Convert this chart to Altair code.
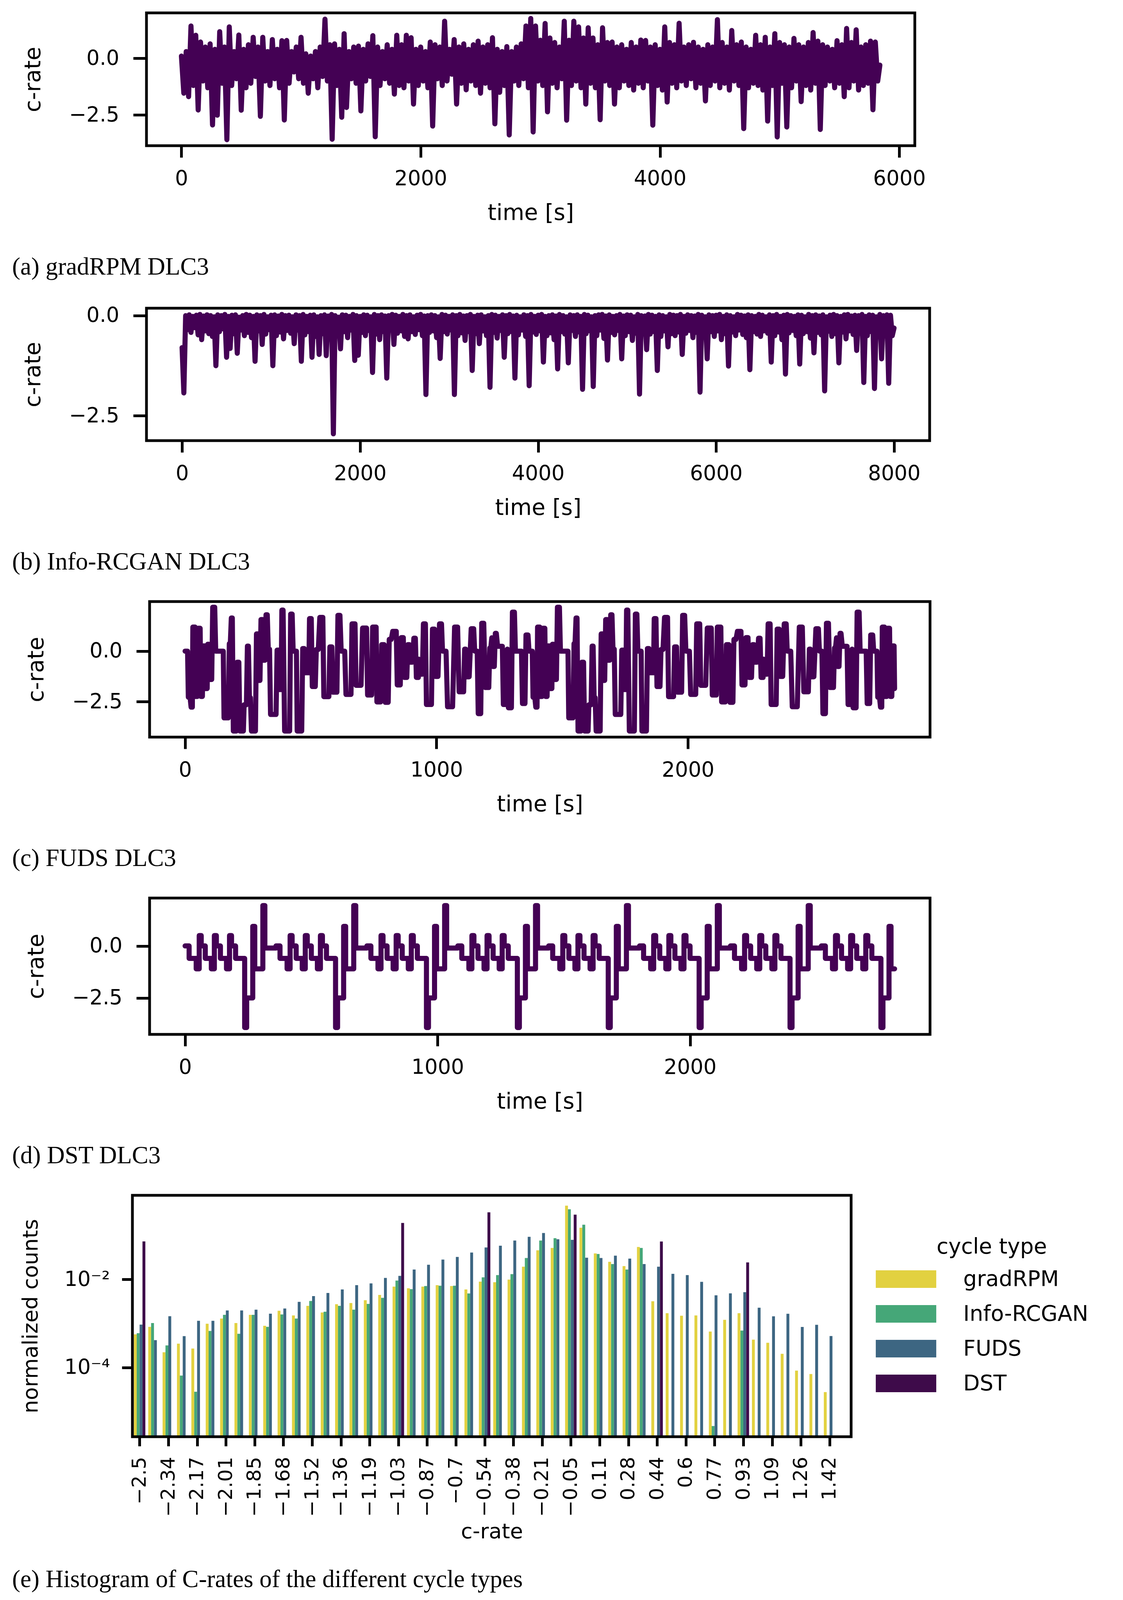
import altair as alt
import pandas as pd

LINE_COLOR = "#440154"
SANS = "DejaVu Sans"
SERIF = "Liberation Serif"

# (a) gradRPM: upper / lower envelope, one pair every 40 s (lower one 20 s later)
GRAD_STEP = 40
GRAD_TOP = [
    0.1, 0.3, 1.43, 1.02, 0.72, 0.5, 0.64, 0.4, 1.18, 0.5,
    1.39, 0.3, 1.03, 0.4, 0.6, 0.93, 0.5, 0.93, 0.3, 0.83,
    0.4, 0.78, 0.79, 0.3, 0.5, 0.93, 0.2, 0.1, 0.3, 0.5,
    1.73, 0.6, 0.64, 0.4, 1.09, 0.3, 0.5, 0.54, 0.4, 0.64,
    1.0, 0.5, 0.3, 0.6, 0.4, 1.02, 0.6, 1.02, 0.91, 0.4,
    0.5, 0.3, 0.72, 0.6, 0.5, 1.64, 0.4, 0.83, 0.5, 0.64,
    0.4, 0.6, 0.76, 0.5, 0.6, 0.91, 0.4, 0.3, 0.52, 0.3,
    0.5, 0.64, 1.43, 1.76, 1.43, 0.8, 1.54, 0.9, 0.7, 0.5,
    1.64, 0.8, 1.64, 1.39, 0.9, 1.35, 0.9, 0.6, 1.35, 0.7,
    0.72, 0.5, 0.6, 0.4, 0.7, 0.5, 0.81, 0.79, 0.5, 0.6,
    0.4, 1.39, 0.7, 0.6, 1.55, 0.5, 0.6, 0.71, 0.5, 0.4,
    0.6, 0.5, 1.71, 0.7, 0.5, 1.23, 0.6, 0.72, 0.5, 0.4,
    1.02, 0.6, 0.93, 0.5, 1.09, 0.7, 0.6, 0.5, 0.88, 0.6,
    0.5, 0.7, 1.14, 0.76, 0.6, 0.5, 0.4, 0.78, 0.6, 1.32,
    0.7, 1.26, 0.5, 0.6, 0.76, 0.72,
]
GRAD_BOTTOM = [
    -1.54, -1.69, -1.2, -2.28, -1.0, -1.3, -2.94, -2.51, -1.1, -3.59,
    -1.2, -0.9, -2.29, -1.3, -1.1, -0.8, -2.56, -1.0, -1.2, -0.9,
    -1.3, -2.72, -1.1, -0.6, -0.9, -1.1, -1.54, -0.9, -1.3, -0.8,
    -1.0, -3.57, -1.2, -2.6, -2.17, -0.9, -1.1, -2.32, -1.0, -0.8,
    -3.46, -1.2, -0.9, -1.1, -1.58, -1.2, -1.3, -1.0, -2.02, -1.2,
    -1.0, -1.3, -2.99, -0.9, -1.2, -1.0, -0.7, -2.02, -1.1, -1.39,
    -1.0, -1.2, -1.54, -1.1, -1.3, -2.89, -1.5, -1.2, -3.38, -1.0,
    -1.2, -0.9, -1.3, -3.25, -1.0, -1.2, -2.36, -1.1, -1.3, -0.9,
    -2.73, -1.2, -1.0, -1.3, -2.02, -1.1, -1.3, -2.71, -1.0, -1.2,
    -2.02, -1.3, -1.0, -1.2, -1.4, -1.1, -1.3, -1.0, -2.95, -1.2,
    -1.4, -1.93, -1.1, -1.3, -1.0, -1.2, -0.9, -1.3, -1.1, -1.88,
    -1.2, -1.0, -1.3, -1.1, -1.4, -1.0, -1.2, -3.1, -1.3, -1.1,
    -1.2, -1.4, -2.77, -1.2, -3.47, -1.1, -3.03, -1.3, -1.0, -1.91,
    -1.2, -1.4, -1.1, -3.14, -1.2, -1.0, -1.3, -1.1, -1.69, -1.3,
    -1.0, -1.4, -1.2, -1.1, -2.27, -1.0,
]
GRAD_LAST = (5838, -0.3)

# (b) Info-RCGAN: same layout
INFO_STEP = 40
INFO_TOP = [
    -0.8, 0.0, 0.02, -0.02, 0.01, 0.03, -0.01, 0.02, 0.0, -0.03,
    0.02, 0.0, 0.03, -0.02, 0.01, 0.02, -0.04, 0.0, 0.03, 0.01,
    -0.02, 0.02, 0.0, 0.03, -0.03, 0.01, 0.02, -0.01, 0.03, 0.0,
    0.01, -0.03, 0.02, 0.0, 0.03, -0.02, 0.01, 0.02, -0.03, 0.0,
    0.02, -0.01, 0.03, 0.0, -0.04, 0.02, 0.01, -0.02, 0.03, 0.0,
    -0.02, 0.02, 0.01, -0.03, 0.03, 0.0, 0.02, -0.01, 0.0, 0.03,
    0.01, -0.02, 0.03, 0.0, 0.02, -0.03, 0.01, 0.03, -0.01, 0.0,
    0.02, 0.0, -0.03, 0.03, 0.01, -0.02, 0.02, 0.0, 0.03, -0.01,
    0.0, 0.03, -0.02, 0.01, 0.02, -0.03, 0.0, 0.03, 0.01, -0.02,
    0.02, 0.0, 0.03, -0.01, 0.01, -0.03, 0.02, 0.0, 0.03, -0.02,
    0.01, 0.03, -0.02, 0.0, 0.02, -0.01, 0.03, 0.0, -0.03, 0.02,
    0.0, 0.02, -0.02, 0.03, 0.01, -0.03, 0.0, 0.02, 0.03, -0.01,
    0.02, -0.02, 0.0, 0.03, -0.01, 0.02, 0.01, -0.03, 0.03, 0.0,
    -0.01, 0.03, 0.01, -0.02, 0.02, 0.0, -0.03, 0.03, 0.01, 0.0,
    0.03, -0.02, 0.02, 0.0, -0.01, 0.03, 0.01, -0.03, 0.02, 0.0,
    0.01, 0.03, -0.02, 0.02, 0.0, -0.03, 0.03, 0.01, -0.01, 0.02,
    0.0, -0.02, 0.03, 0.01, -0.03, 0.02, 0.0, 0.03, -0.02, 0.01,
    0.03, 0.0, -0.02, 0.02, 0.01, -0.03, 0.03, 0.0, 0.02, -0.01,
    0.02, -0.03, 0.01, 0.03, 0.0, -0.02, 0.02, 0.03, -0.01, 0.01,
    0.0, 0.03, -0.02, 0.02, 0.01, -0.03, 0.03, 0.0, 0.02, 0.01,
]
INFO_BOTTOM = [
    -1.93, -0.35, -0.42, -0.3, -0.48, -0.6, -0.38, -0.45, -0.52, -1.25,
    -0.4, -0.33, -1.04, -0.82, -0.45, -0.94, -0.36, -0.5, -0.42, -0.55,
    -1.14, -0.38, -0.72, -0.46, -0.35, -1.25, -0.5, -0.41, -0.58, -0.37,
    -0.44, -0.7, -0.36, -1.14, -0.48, -0.4, -1.04, -0.52, -0.97, -0.45,
    -1.0, -0.38, -2.95, -0.47, -0.83, -0.4, -0.55, -0.36, -1.12, -0.99,
    -0.42, -0.5, -0.37, -1.42, -0.46, -0.6, -0.4, -1.56, -0.35, -0.72,
    -0.44, -0.38, -0.52, -0.58, -0.4, -0.47, -0.35, -0.5, -1.97, -0.42,
    -0.38, -0.55, -1.07, -0.4, -0.46, -0.36, -1.97, -0.5, -0.43, -0.62,
    -0.4, -1.37, -0.45, -0.7, -0.38, -0.5, -1.79, -0.42, -0.56, -0.37,
    -1.04, -0.45, -0.4, -1.56, -0.48, -0.36, -0.52, -1.75, -0.41, -0.47,
    -0.38, -1.16, -0.5, -0.43, -0.6, -1.33, -0.4, -0.46, -1.18, -0.37,
    -0.52, -0.41, -1.84, -0.45, -0.38, -1.77, -0.5, -0.36, -0.57, -1.11,
    -0.42, -0.48, -0.37, -1.08, -0.5, -0.4, -0.62, -0.44, -1.96, -0.39,
    -0.85, -0.46, -0.4, -1.37, -0.52, -0.38, -0.78, -0.45, -0.5, -0.41,
    -0.97, -0.44, -0.37, -0.55, -0.42, -1.91, -0.48, -1.08, -0.4, -0.52,
    -0.38, -0.6, -0.45, -1.26, -0.41, -0.5, -0.36, -0.47, -0.55, -1.35,
    -0.4, -0.46, -0.52, -0.38, -0.44, -1.16, -0.5, -0.41, -0.6, -1.46,
    -0.43, -0.37, -0.5, -1.21, -0.45, -0.4, -0.56, -0.93, -0.42, -0.48,
    -1.88, -0.39, -0.52, -0.45, -1.18, -0.41, -0.58, -0.38, -0.47, -0.87,
    -0.44, -1.67, -0.5, -0.4, -1.82, -0.46, -1.08, -0.42, -1.69, -0.5,
]
INFO_LAST = (8000, -0.31)

# (c) FUDS: one schedule (time [s], c-rate), repeated until the end of the record
FUDS_PROFILE = [
    (0, 0.0), (10, 0.0), (13, -2.28), (20, -2.28), (24, -2.77), (29, -2.77),
    (31, 1.19), (40, 1.19), (43, -2.24), (49, -2.24), (52, 1.13), (60, 1.13),
    (63, -2.24), (69, -2.24), (72, 0.26), (78, 0.26), (80, -1.85), (88, -1.85),
    (90, 0.34), (94, 0.34), (96, -1.40), (106, -1.40), (110, 2.17), (118, 2.17),
    (122, 0.0), (152, 0.0), (155, -3.30), (172, -3.30), (176, 0.37), (180, 0.37),
    (184, 1.64), (188, 1.64), (192, -3.95), (204, -3.95), (207, -0.55), (214, -0.55),
    (218, -3.95), (232, -3.95), (235, -2.65), (244, -2.65), (248, 0.25), (252, 0.25),
    (256, -2.30), (260, -2.30), (264, -3.95), (280, -3.95), (284, 0.85), (290, 0.85),
    (294, -1.45), (298, -1.45), (302, 1.56), (308, 1.56), (312, -0.45), (318, -0.45),
    (322, 1.80), (327, 1.80), (331, 0.10), (336, 0.10), (340, -3.13), (362, -3.13),
    (366, 0.05), (372, 0.05), (376, -1.90), (382, -1.90), (385, 2.03), (390, 2.03),
    (396, -3.95), (416, -3.95), (420, 1.83), (426, 1.83), (430, 0.0), (443, 0.0),
    (446, -3.95), (464, -3.95), (468, 0.13), (474, 0.13), (478, -1.07), (492, -1.07),
    (495, 1.61), (502, 1.61), (506, -1.75), (518, -1.75), (522, 0.08), (530, 0.08),
    (536, 1.67), (548, 1.67), (552, -2.25), (572, -2.25), (576, 0.21), (584, 0.21),
    (588, -2.03), (604, -2.03), (608, 1.77), (616, 1.77), (621, 0.0), (635, 0.0),
    (640, -2.14), (660, -2.14), (664, 1.35), (676, 1.35), (680, -1.69), (700, -1.69),
    (706, 1.14), (722, 1.14), (726, -2.17), (742, -2.17), (746, 1.19), (760, 1.19),
    (763, -2.51), (778, -2.51), (782, 0.32), (792, 0.32), (796, -2.53), (808, -2.53),
    (812, 0.58), (820, 0.58), (826, 0.98), (840, 0.98), (844, -1.67), (856, -1.67),
    (860, 0.67), (868, 0.67), (872, -1.30), (882, -1.30), (886, 0.32), (892, 0.32),
    (896, -0.55), (904, -0.55), (910, 0.64), (916, 0.64), (920, -1.30), (928, -1.30),
    (930, -0.40), (934, -1.14), (944, -1.14), (948, 1.35), (956, 1.35), (960, -2.64),
    (980, -2.64), (984, 1.09), (992, 1.09), (996, -1.25), (1006, -1.25), (1012, 1.35),
    (1020, 1.35), (1024, 0.0), (1038, 0.0), (1044, -2.75), (1064, -2.75), (1072, 1.19),
    (1084, 1.19), (1090, -2.01), (1108, -2.01), (1112, 0.10), (1116, 0.10), (1120, -1.27),
    (1130, -1.27), (1138, 1.11), (1148, 1.11), (1152, 0.0), (1162, 0.0), (1166, -3.09),
    (1176, -3.09), (1180, 1.38), (1188, 1.38), (1194, -1.80), (1208, -1.80), (1212, 0.16),
    (1216, 0.16), (1220, 0.66), (1224, -0.76), (1230, -0.76), (1234, 0.88), (1238, 0.88),
    (1243, 0.24), (1262, 0.24), (1266, -2.64), (1278, -2.64), (1282, 0.10), (1286, -2.80),
    (1298, -2.80), (1302, 1.93), (1310, 1.93), (1314, 0.0), (1338, 0.0), (1342, -2.59),
    (1352, -2.59), (1356, 0.80), (1364, 0.80), (1368, 0.0),
]
FUDS_PERIOD = 1371
FUDS_END = 2823

# (d) DST: one cycle as (duration [s], c-rate) steps
DST_SECONDS = [16, 28, 12, 8, 16, 24, 12, 8, 16, 24, 12, 8, 16, 36, 8, 24, 8, 32, 8, 44]
DST_LEVELS = [0.0, -0.6, -1.1, 0.5, 0.0, -0.6, -1.1, 0.5, 0.0, -0.6, -1.1, 0.5,
              0.0, -0.6, -3.92, -2.5, 0.94, -1.1, 1.94, -0.1]
DST_END = 2810

# (e) histogram: 50 bins, normalized counts per cycle type (None = empty bin)
BIN_FIRST = -2.5
BIN_WIDTH = 3.92 / 48
CYCLES = ["gradRPM", "Info-RCGAN", "FUDS", "DST"]
CYCLE_COLORS = ["#e2d140", "#45a778", "#3d6682", "#3e0b4a"]
HIST_GRAD = [
    5.65e-4, 8.36e-4, 2.22e-4, 3.48e-4, 2.70e-4, 9.84e-4, 1.29e-3, 1.02e-3, 1.57e-3, 8.87e-4,
    1.94e-3, 1.52e-3, 2.51e-3, 1.77e-3, 2.74e-3, 2.91e-3, 3.38e-3, 4.44e-3, 6.87e-3, 6.27e-3,
    6.87e-3, 7.40e-3, 7.08e-3, 5.90e-3, 8.87e-3, 8.63e-3, 9.89e-3, 1.94e-2, 4.57e-2, 5.18e-2,
    0.471, 0.149, 3.89e-2, 2.51e-2, 2.00e-2, 5.45e-2, 3.19e-3, 1.71e-3, 1.50e-3, 1.52e-3,
    6.55e-4, 1.21e-3, 1.71e-3, 4.30e-4, 3.65e-4, 2.05e-4, 8.53e-5, 7.11e-5, 2.77e-5, None,
]
HIST_INFO = [
    6.00e-4, 1.02e-3, 3.18e-4, 6.56e-5, 2.82e-5, 6.76e-4, 1.57e-3, 5.82e-4, 1.57e-3, 8.36e-4,
    1.60e-3, 1.29e-3, 3.24e-3, 1.85e-3, 2.51e-3, 2.06e-3, 2.78e-3, 3.82e-3, 9.42e-3, 6.00e-3,
    7.08e-3, 7.18e-3, 7.18e-3, 4.79e-3, 1.11e-2, 1.25e-2, 1.32e-2, 3.05e-2, 7.62e-2, 8.59e-2,
    0.390, 0.174, 3.76e-2, 2.23e-2, 1.67e-2, 5.18e-2, None, None, None, None,
    4.70e-6, None, 6.89e-4, None, None, None, None, None, None, None,
]
HIST_FUDS = [
    9.42e-4, 4.18e-4, 1.46e-3, 5.15e-4, 1.15e-3, 1.15e-3, 1.97e-3, 1.97e-3, 2.06e-3, 1.67e-3,
    2.19e-3, 3.09e-3, 4.18e-3, 4.93e-3, 5.90e-3, 7.40e-3, 8.09e-3, 1.08e-2, 1.20e-2, 1.67e-2,
    2.15e-2, 2.82e-2, 3.24e-2, 4.06e-2, 5.31e-2, 5.82e-2, 7.62e-2, 9.27e-2, 0.113, 8.15e-2,
    7.89e-2, 3.10e-2, 3.05e-2, 3.45e-2, 2.96e-2, 2.23e-2, 1.94e-2, 1.34e-2, 1.25e-2, 8.79e-3,
    4.35e-3, 4.81e-3, 5.12e-3, 2.28e-3, 1.45e-3, 1.66e-3, 8.34e-4, 9.31e-4, 5.19e-4, None,
]
HIST_DST = [None] * 50
for k, v in [(0, 7.29e-2), (18, 0.191), (24, 0.333), (30, 0.294), (36, 7.23e-2), (42, 2.43e-2)]:
    HIST_DST[k] = v
TICK_LABELS = ["−2.5", "−2.34", "−2.17", "−2.01", "−1.85", "−1.68", "−1.52", "−1.36",
               "−1.19", "−1.03", "−0.87", "−0.7", "−0.54", "−0.38", "−0.21", "−0.05",
               "0.11", "0.28", "0.44", "0.6", "0.77", "0.93", "1.09", "1.26", "1.42"]
Y_LOW, Y_HIGH = 2.69e-6, 0.809

FRAME_ROW = pd.DataFrame({"frame": [0]})


def envelope_frame(top, bottom, step, last):
    t, v = [], []
    for i, (hi, lo) in enumerate(zip(top, bottom)):
        t += [i * step, i * step + step / 2]
        v += [hi, lo]
    t.append(last[0])
    v.append(last[1])
    return pd.DataFrame({"t": t, "v": v})


def fuds_frame():
    t, v = [], []
    start = 0
    while start < FUDS_END:
        for ts, vs in FUDS_PROFILE:
            if start + ts <= FUDS_END:
                t.append(start + ts)
                v.append(vs)
        start += FUDS_PERIOD
    return pd.DataFrame({"t": t, "v": v})


def dst_frame():
    t, v = [], []
    now = 0
    while now < DST_END:
        for dur, lvl in zip(DST_SECONDS, DST_LEVELS):
            if now >= DST_END:
                break
            t.append(now)
            v.append(lvl)
            now += dur
    t.append(DST_END)
    v.append(v[-1])
    return pd.DataFrame({"t": t, "v": v})


def caption(text, offset):
    return alt.TitleParams(text, orient="bottom", anchor="start", frame="group",
                           font=SERIF, fontSize=63, fontWeight="normal", color="black",
                           offset=offset, dx=-308)


def box(x_dom, y_dom, x_scale, y_scale, x_title, y_title):
    # black frame around the axes area, drawn at the scale domain corners
    return (
        alt.Chart(FRAME_ROW)
        .mark_rect(fillOpacity=0, stroke="black", strokeWidth=7)
        .encode(
            x=alt.XDatum(x_dom[0], scale=x_scale, title=x_title),
            x2=alt.X2Datum(x_dom[1]),
            y=alt.YDatum(y_dom[0], scale=y_scale, title=y_title),
            y2=alt.Y2Datum(y_dom[1]),
        )
    )


def line_panel(df, width, height, x_dom, x_ticks, y_dom, text, extra, interp="linear"):
    # `extra` px of empty strip left of the frame, so the frame sits where the reference has it
    x_left = x_dom[0] - extra * (x_dom[1] - x_dom[0]) / width
    x_scale = alt.Scale(domain=[x_left, x_dom[1]], nice=False, zero=False)
    y_scale = alt.Scale(domain=y_dom, nice=False, zero=False)
    line = (
        alt.Chart(df)
        .mark_line(color=LINE_COLOR, strokeWidth=13, strokeJoin="round", strokeCap="round",
                   interpolate=interp, clip=True)
        .encode(
            x=alt.X("t:Q", title="time [s]", scale=x_scale,
                    axis=alt.Axis(values=x_ticks, format="d", labelFontSize=53, titleFontSize=57,
                                  tickSize=30, labelPadding=28, titlePadding=33,
                                  titleX=extra + width / 2,
                                  labelFlush=False, labelOverlap=False)),
            y=alt.Y("v:Q", title="c-rate", scale=y_scale,
                    axis=alt.Axis(values=[-2.5, 0.0], format=".1f",
                                  labelExpr="replace(datum.label, '-', '−')",
                                  labelFontSize=53, titleFontSize=57, tickSize=34,
                                  labelPadding=36, titlePadding=62, offset=-extra,
                                  labelFlush=False, labelOverlap=False)),
        )
    )
    return (
        alt.layer(line, box(x_dom, y_dom, x_scale, y_scale, "time [s]", "c-rate"))
        .properties(width=width + extra, height=height, title=caption(text, 80))
    )


rows = []
for name, counts in zip(CYCLES, [HIST_GRAD, HIST_INFO, HIST_FUDS, HIST_DST]):
    j = CYCLES.index(name)
    for k, c in enumerate(counts):
        if c is None:
            continue
        center = BIN_FIRST + k * BIN_WIDTH
        left = center - 0.4 * BIN_WIDTH + j * 0.2 * BIN_WIDTH
        rows.append({"cycle": name, "left": left, "right": left + 0.2 * BIN_WIDTH, "count": c})
hist_df = pd.DataFrame(rows)

tick_values = [BIN_FIRST + 2 * i * BIN_WIDTH for i in range(len(TICK_LABELS))]
label_expr = ("[" + ",".join("'%s'" % s for s in TICK_LABELS) + "]"
              "[round((datum.value + 2.5) / %.6f)]" % (2 * BIN_WIDTH))
hx_dom = [BIN_FIRST - 0.5 * BIN_WIDTH, BIN_FIRST + 49.5 * BIN_WIDTH]
hx_scale = alt.Scale(domain=hx_dom, nice=False, zero=False)
hy_scale = alt.Scale(type="log", domain=[Y_LOW, Y_HIGH], nice=False)

bars = (
    alt.Chart(hist_df)
    .mark_bar(clip=True)
    .encode(
        x=alt.X("left:Q", title="c-rate", scale=hx_scale,
                axis=alt.Axis(values=tick_values, labelExpr=label_expr, labelAngle=270,
                              labelFontSize=50, titleFontSize=54, tickSize=24,
                              labelPadding=27, titlePadding=16,
                              labelFlush=False, labelOverlap=False)),
        x2="right:Q",
        y=alt.Y("count:Q", title="normalized counts", scale=hy_scale,
                axis=alt.Axis(values=[1e-4, 1e-2],
                              labelExpr="datum.value < 0.001 ? '10⁻⁴' : '10⁻²'",
                              labelFontSize=53, titleFontSize=54, tickSize=27,
                              labelPadding=31, titlePadding=58,
                              labelFlush=False, labelOverlap=False)),
        y2=alt.datum(Y_LOW),
        color=alt.Color("cycle:N", sort=CYCLES,
                        scale=alt.Scale(domain=CYCLES, range=CYCLE_COLORS),
                        legend=alt.Legend(
                            title="cycle type", orient="none", legendX=1953, legendY=106,
                            padding=0, titleFont=SANS, titleFontSize=55,
                            titleFontWeight="normal", titleColor="black",
                            titleAnchor="middle", titlePadding=26, titleLimit=0,
                            labelFont=SANS, labelFontSize=55, labelColor="black",
                            labelLimit=0, labelOffset=119,
                            symbolType="M-3.44,-1H3.44V1H-3.44Z",
                            symbolSize=2025, symbolStrokeWidth=0, symbolOpacity=1,
                            rowPadding=33)),
    )
)
hist = (
    alt.layer(bars, box(hx_dom, [Y_LOW, Y_HIGH], hx_scale, hy_scale, "c-rate", "normalized counts"))
    .properties(width=1840, height=618,
                title=caption("(e) Histogram of C-rates of the different cycle types", 65))
)

panel_a = line_panel(envelope_frame(GRAD_TOP, GRAD_BOTTOM, GRAD_STEP, GRAD_LAST),
                     1967, 340, [-292, 6130], [0, 2000, 4000, 6000], [-3.855, 2.006],
                     "(a) gradRPM DLC3", 36)
panel_b = line_panel(envelope_frame(INFO_TOP, INFO_BOTTOM, INFO_STEP, INFO_LAST),
                     2005, 339, [-400, 8400], [0, 2000, 4000, 6000, 8000], [-3.12, 0.185],
                     "(b) Info-RCGAN DLC3", 36)
panel_c = line_panel(fuds_frame(), 1998, 347, [-141, 2963], [0, 1000, 2000], [-4.25, 2.45],
                     "(c) FUDS DLC3", 44)
panel_d = line_panel(dst_frame(), 1998, 349, [-140.5, 2950.5], [0, 1000, 2000], [-4.25, 2.30],
                     "(d) DST DLC3", 44, interp="step-after")

chart = (
    alt.concat(panel_a, panel_b, panel_c, panel_d, hist, columns=1, spacing=65, align="none")
    .resolve_legend(color="independent")
    .resolve_scale(color="independent")
    .properties(padding={"left": 23, "top": 21, "right": 10, "bottom": 8},
                background="white")
    .configure_view(strokeWidth=0)
    .configure_axis(domain=False, grid=False, tickColor="black", tickWidth=7,
                    labelColor="black", titleColor="black", labelFont=SANS,
                    titleFont=SANS, titleFontWeight="normal")
)

chart.save("out.html", embed_options={"renderer": "svg", "actions": False})
